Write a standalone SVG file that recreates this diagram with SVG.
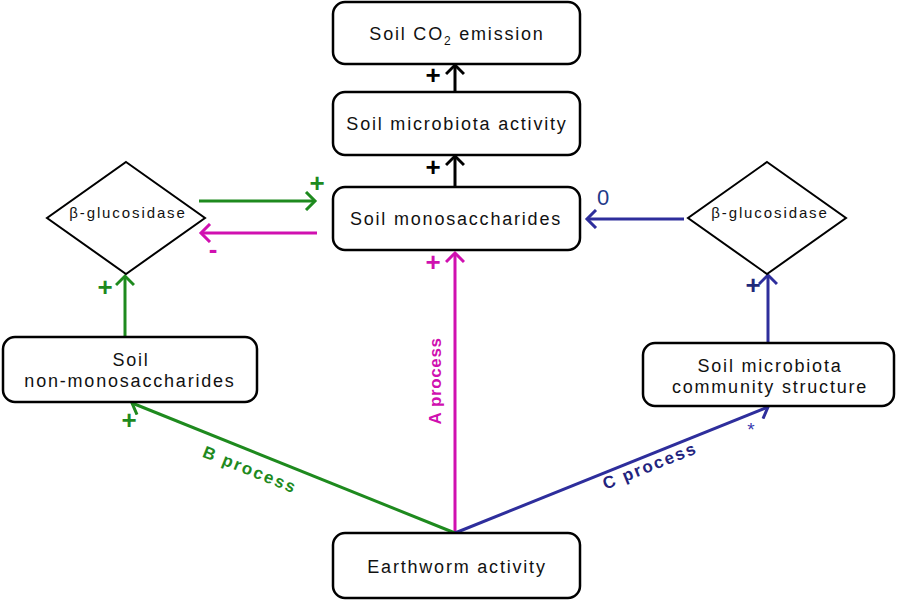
<svg xmlns="http://www.w3.org/2000/svg" width="900" height="600" viewBox="0 0 900 600">
<style>
.box{fill:#fff;stroke:#000;stroke-width:2.5}
.dia{fill:#fff;stroke:#000;stroke-width:2}
.t{font-family:"Liberation Sans",Arial,sans-serif;font-size:18px;letter-spacing:1.8px;text-anchor:middle;fill:#111}
.d{font-family:"Liberation Sans",Arial,sans-serif;font-size:15px;letter-spacing:1.9px;text-anchor:middle;fill:#111}
.sg{font-family:"Liberation Sans",Arial,sans-serif;font-size:26px;font-weight:bold;text-anchor:middle}
.p{font-family:"Liberation Sans",Arial,sans-serif;font-size:17px;font-weight:bold;text-anchor:middle;dominant-baseline:central}
.k{stroke:#000;stroke-width:3;fill:none}
.g{stroke:#1e8a1e;stroke-width:3;fill:none}
.m{stroke:#d010b0;stroke-width:3;fill:none}
.b{stroke:#2e2e9c;stroke-width:3;fill:none}
</style>
<defs>
<marker id="ak" viewBox="0 0 20 20" markerWidth="20" markerHeight="20" refX="16" refY="10" orient="auto" markerUnits="userSpaceOnUse"><path d="M7,1 L16,10 L7,19" fill="none" stroke="#000" stroke-width="3"/></marker>
<marker id="ag" viewBox="0 0 20 20" markerWidth="20" markerHeight="20" refX="16" refY="10" orient="auto" markerUnits="userSpaceOnUse"><path d="M7,1 L16,10 L7,19" fill="none" stroke="#1e8a1e" stroke-width="3"/></marker>
<marker id="am" viewBox="0 0 20 20" markerWidth="20" markerHeight="20" refX="16" refY="10" orient="auto" markerUnits="userSpaceOnUse"><path d="M7,1 L16,10 L7,19" fill="none" stroke="#d010b0" stroke-width="3"/></marker>
<marker id="ab" viewBox="0 0 20 20" markerWidth="20" markerHeight="20" refX="16" refY="10" orient="auto" markerUnits="userSpaceOnUse"><path d="M7,1 L16,10 L7,19" fill="none" stroke="#2e2e9c" stroke-width="3"/></marker>
</defs>
<rect width="900" height="600" fill="#fff"/>

<g id="connectors">
<line class="k" x1="455" y1="92" x2="455" y2="65" marker-end="url(#ak)"/>
<line class="k" x1="455" y1="187" x2="455" y2="156" marker-end="url(#ak)"/>
<line class="g" x1="199" y1="201" x2="315" y2="201" marker-end="url(#ag)"/>
<line class="m" x1="317" y1="233" x2="201" y2="233" marker-end="url(#am)"/>
<line class="g" x1="125" y1="337" x2="125" y2="276" marker-end="url(#ag)"/>
<line class="b" x1="684" y1="219" x2="587" y2="219" marker-end="url(#ab)"/>
<line class="b" x1="768" y1="343" x2="768" y2="275" marker-end="url(#ab)"/>
<line class="m" x1="455" y1="533" x2="455" y2="253" marker-end="url(#am)"/>
<line class="g" x1="455" y1="533" x2="132" y2="403" marker-end="url(#ag)"/>
<line class="b" x1="455" y1="533" x2="768" y2="407" marker-end="url(#ab)"/>
<text class="sg" x="433" y="84" fill="#000">+</text>
<text class="sg" x="433" y="176" fill="#000">+</text>
<text class="sg" x="433" y="271" fill="#d010b0">+</text>
<text class="sg" x="317" y="192" fill="#1e8a1e">+</text>
<text class="sg" x="213" y="258" fill="#d010b0">-</text>
<text class="sg" x="105" y="296" fill="#1e8a1e">+</text>
<text class="sg" x="129" y="429" fill="#1e8a1e">+</text>
<text x="603" y="205" font-family="'Liberation Sans',Arial,sans-serif" font-size="22" text-anchor="middle" fill="#1f3a8a">0</text>
<text class="sg" x="753" y="294" fill="#1f2a7a">+</text>
<text x="751" y="436" font-family="'Liberation Sans',Arial,sans-serif" font-size="19" text-anchor="middle" fill="#3a3ab0">*</text>
<text class="p" fill="#d010b0" transform="translate(435,381) rotate(-90)" letter-spacing="0.6">A process</text>
<text class="p" fill="#1e8a1e" transform="translate(250,470) rotate(21.9)" letter-spacing="2">B process</text>
<text class="p" fill="#23237e" transform="translate(650,466) rotate(-21.9)" letter-spacing="2">C process</text>
</g>

<g id="co2">
<rect class="box" x="333" y="2" width="247" height="62" rx="12"/>
<text class="t" x="457" y="40" letter-spacing="1.3">Soil CO<tspan font-size="12" dy="5">2</tspan><tspan dy="-5"> emission</tspan></text>
</g>
<g id="activity">
<rect class="box" x="333" y="92" width="247" height="63" rx="12"/>
<text class="t" x="457" y="130">Soil microbiota activity</text>
</g>
<g id="mono">
<rect class="box" x="333" y="187" width="247" height="63" rx="12"/>
<text class="t" x="456" y="225">Soil monosaccharides</text>
</g>
<g id="bglu-left">
<polygon class="dia" points="126,162 205,218 126,274 47,218"/>
<text class="d" x="128" y="218">β-glucosidase</text>
</g>
<g id="bglu-right">
<polygon class="dia" points="767,162 846,218 767,274 688,218"/>
<text class="d" x="770" y="218">β-glucosidase</text>
</g>
<g id="nonmono">
<rect class="box" x="3" y="337" width="254" height="65" rx="12"/>
<text class="t" x="131" y="366">Soil</text>
<text class="t" x="130" y="387">non-monosaccharides</text>
</g>
<g id="community">
<rect class="box" x="643" y="343" width="251" height="63" rx="12"/>
<text class="t" x="770" y="372">Soil microbiota</text>
<text class="t" x="770" y="393">community structure</text>
</g>
<g id="earthworm">
<rect class="box" x="333" y="533" width="247" height="65" rx="12"/>
<text class="t" x="457" y="573">Earthworm activity</text>
</g>
</svg>
